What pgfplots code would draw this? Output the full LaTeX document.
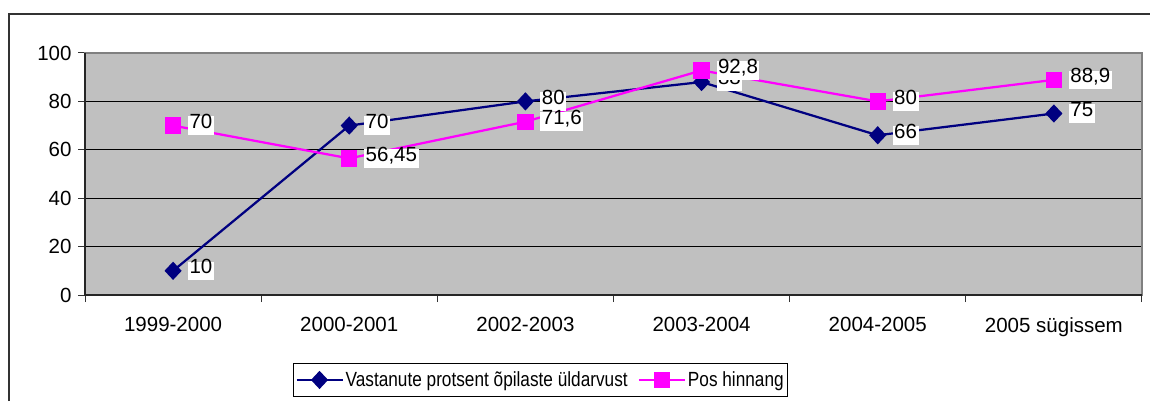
\documentclass[border=0pt]{standalone}
\usepackage{fontspec}
\setmainfont{Liberation Sans}
\newfontfamily\narrowfont[FakeStretch=0.84]{Liberation Sans}
\usepackage{pgfplots}
\pgfplotsset{compat=1.18}
\definecolor{navyb}{HTML}{000080}
\definecolor{mag}{HTML}{FF00FF}
\definecolor{plotbg}{HTML}{C0C0C0}
\newcommand{\chfont}{\fontsize{20.5bp}{24bp}\selectfont}
\begin{document}
\begin{tikzpicture}[x=1bp,y=1bp]
\path[use as bounding box] (0,0) rectangle (1150,401);
\draw[line width=1.5bp, black!80] (9,0) -- (9,387) -- (1150,387);
\begin{axis}[
  at={(85bp,106bp)}, anchor=south west,
  scale only axis, width=1057bp, height=242bp,
  xmin=-0.5, xmax=5.5, ymin=0, ymax=100,
  xtick={-0.5,0.5,1.5,2.5,3.5,4.5,5.5},
  xticklabels={1999-2000,2000-2001,2002-2003,2003-2004,2004-2005,2005 sügissem},
  x tick label as interval,
  ytick={0,20,40,60,80,100},
  tick align=outside,
  xtick pos=lower, ytick pos=left,
  major tick length=7bp,
  tick style={black!80, line width=1bp},
  ymajorgrids,
  grid style={black, line width=0.8bp},
  axis background/.style={fill=plotbg},
  axis line style={draw=gray, line width=1.5bp},
  tick label style={font=\chfont},
  /pgf/number format/assume math mode=true,
  yticklabel style={xshift=-3bp},
  xticklabel style={yshift=-12bp},
  clip=false,
  legend style={at={(0.431,-0.351)}, anchor=center, draw=black, fill=white,
    line width=0.8bp,
    font=\narrowfont\chfont, inner xsep=2bp, inner ysep=4.5bp,
    nodes={inner ysep=4bp},
    /tikz/every even column/.append style={column sep=8bp}},
  legend columns=2,
  legend image code/.code={\draw[mark repeat=2,mark phase=2] plot coordinates {(0bp,0bp) (23bp,0bp) (46bp,0bp)};},
]
% dark left and bottom axis lines
\draw[black!85, line width=1.8bp] (rel axis cs:0,1) -- (rel axis cs:0,0) -- (rel axis cs:1,0);

\addplot[navyb, line width=2.25bp, mark=diamond*, mark size=7.5bp, mark options={xscale=1.25, solid, fill=navyb}]
  coordinates {(0,10) (1,70) (2,80) (3,88) (4,66) (5,75)};
\addlegendentry{Vastanute protsent õpilaste üldarvust}
\addplot[mag, line width=2.25bp, mark=square*, mark size=7bp, mark options={solid, fill=mag}]
  coordinates {(0,70) (1,56.45) (2,71.6) (3,92.8) (4,80) (5,88.9)};
\addlegendentry{Pos hinnang}

% data labels
\pgfplotsset{labstyle/.style={draw=none, mark=none, forget plot,
  point meta=explicit symbolic, nodes near coords,
  nodes near coords align=horizontal,
  every node near coord/.append style={anchor=west, xshift=15bp, fill=white, text=black,
    inner xsep=1.5bp, inner ysep=4.5bp, text height=0.75em, text depth=0.2em, outer sep=0pt,
    font=\chfont}}}
\addplot[labstyle] coordinates {(0,10) [10] (1,70) [70] (2,80) [80] (3,88) [88] (4,66) [66] (5,75) [75]};
\addplot[labstyle] coordinates {(0,70) [70] (1,56.45) [{56,45}] (2,71.6) [{71,6}] (3,92.8) [{92,8}] (4,80) [80] (5,88.9) [{88,9}]};
\end{axis}
\end{tikzpicture}
\end{document}
